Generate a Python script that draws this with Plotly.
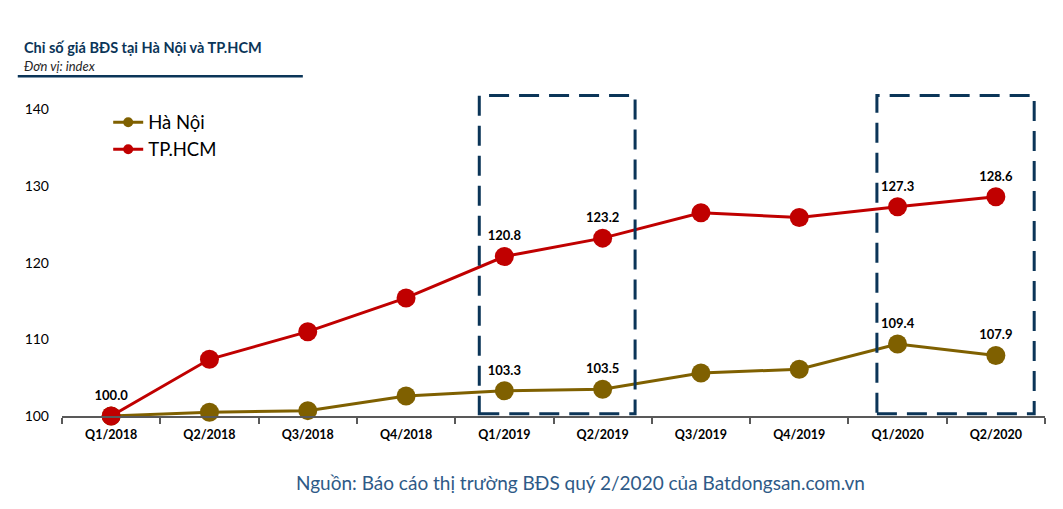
import plotly.graph_objects as go

quarters = ["Q1/2018", "Q2/2018", "Q3/2018", "Q4/2018", "Q1/2019",
            "Q2/2019", "Q3/2019", "Q4/2019", "Q1/2020", "Q2/2020"]
ha_noi = [100.0, 100.5, 100.7, 102.6, 103.3, 103.5, 105.6, 106.1, 109.4, 107.9]
tp_hcm = [100.0, 107.4, 111.0, 115.4, 120.8, 123.2, 126.5, 125.9, 127.3, 128.6]
ha_noi_labels = ["", "", "", "", "103.3", "103.5", "", "", "109.4", "107.9"]
hcm_labels = ["100.0", "", "", "", "120.8", "123.2", "", "", "127.3", "128.6"]

gold = "#7F6000"
red = "#C00000"
navy = "#0B3558"
font = "Lato"

fig = go.Figure()
for name, vals, labels, col in [("Hà Nội", ha_noi, ha_noi_labels, gold),
                                ("TP.HCM", tp_hcm, hcm_labels, red)]:
    fig.add_trace(go.Scatter(
        x=quarters, y=vals, name=name, mode="lines+markers+text", showlegend=False,
        line=dict(color=col, width=3), marker=dict(color=col, size=19),
        text=labels, textposition="top center",
        textfont=dict(family=font, size=13, color="black", weight="bold"),
        cliponaxis=False,
    ))
# legend entries with small markers, like the original
for name, col in [("Hà Nội", gold), ("TP.HCM", red)]:
    fig.add_trace(go.Scatter(x=[None], y=[None], name=name, mode="lines+markers",
                             line=dict(color=col, width=3), marker=dict(color=col, size=10)))

# dashed highlight boxes around Q1-Q2 of 2019 and 2020
for x0, x1 in [(3.745, 5.33), (7.79, 9.39)]:
    fig.add_shape(type="rect", xref="x", yref="y", x0=x0, x1=x1, y0=100.3, y1=141.8,
                  line=dict(color=navy, width=3, dash="20px,10px"))

fig.add_annotation(text="<b>Chỉ số giá BĐS tại Hà Nội và TP.HCM</b>", xref="paper", yref="paper",
                   x=-0.041, y=1.145, xanchor="left", yanchor="middle", showarrow=False,
                   font=dict(family=font, size=14.5, color=navy))
fig.add_annotation(text="<i>Đơn vị: index</i>", xref="paper", yref="paper",
                   x=-0.041, y=1.086, xanchor="left", yanchor="middle", showarrow=False,
                   font=dict(family=font, size=13, color="#262626"))
fig.add_shape(type="line", xref="paper", yref="paper", x0=-0.045, x1=0.245, y0=1.055, y1=1.055,
              line=dict(color=navy, width=2.5))
fig.add_annotation(text="Nguồn: Báo cáo thị trường BĐS quý 2/2020 của Batdongsan.com.vn",
                   xref="paper", yref="paper", x=0.527, y=-0.208, xanchor="center", yanchor="middle",
                   showarrow=False, font=dict(family=font, size=19, color="#2E5A87"))

# page body has an 8px margin, so the figure is a bit smaller and shifted
fig.update_layout(
    width=1055, height=501,
    margin=dict(l=54, r=18, t=86, b=93),
    paper_bgcolor="white", plot_bgcolor="white",
    font=dict(family=font),
    legend=dict(x=0.047, y=0.97, xanchor="left", yanchor="top", bgcolor="rgba(0,0,0,0)",
                font=dict(family=font, size=18.5, color="black"), tracegroupgap=0, itemwidth=30),
)
fig.update_xaxes(range=[-0.5, 9.5], showgrid=False, showline=True, linecolor="#595959", linewidth=2,
                 ticks="outside", tickson="boundaries", ticklen=6, tickcolor="#595959", tickwidth=2,
                 automargin=False, ticklabelstandoff=6,
                 tickfont=dict(family=font, size=12.5, color="black", weight="bold"))
fig.update_yaxes(range=[100, 142], showgrid=False, showline=False, zeroline=False,
                 tickvals=[100, 110, 120, 130, 140], ticks="", ticklabelstandoff=12,
                 automargin=False,
                 tickfont=dict(family=font, size=14, color="black"))

fig.write_html("out.html")
